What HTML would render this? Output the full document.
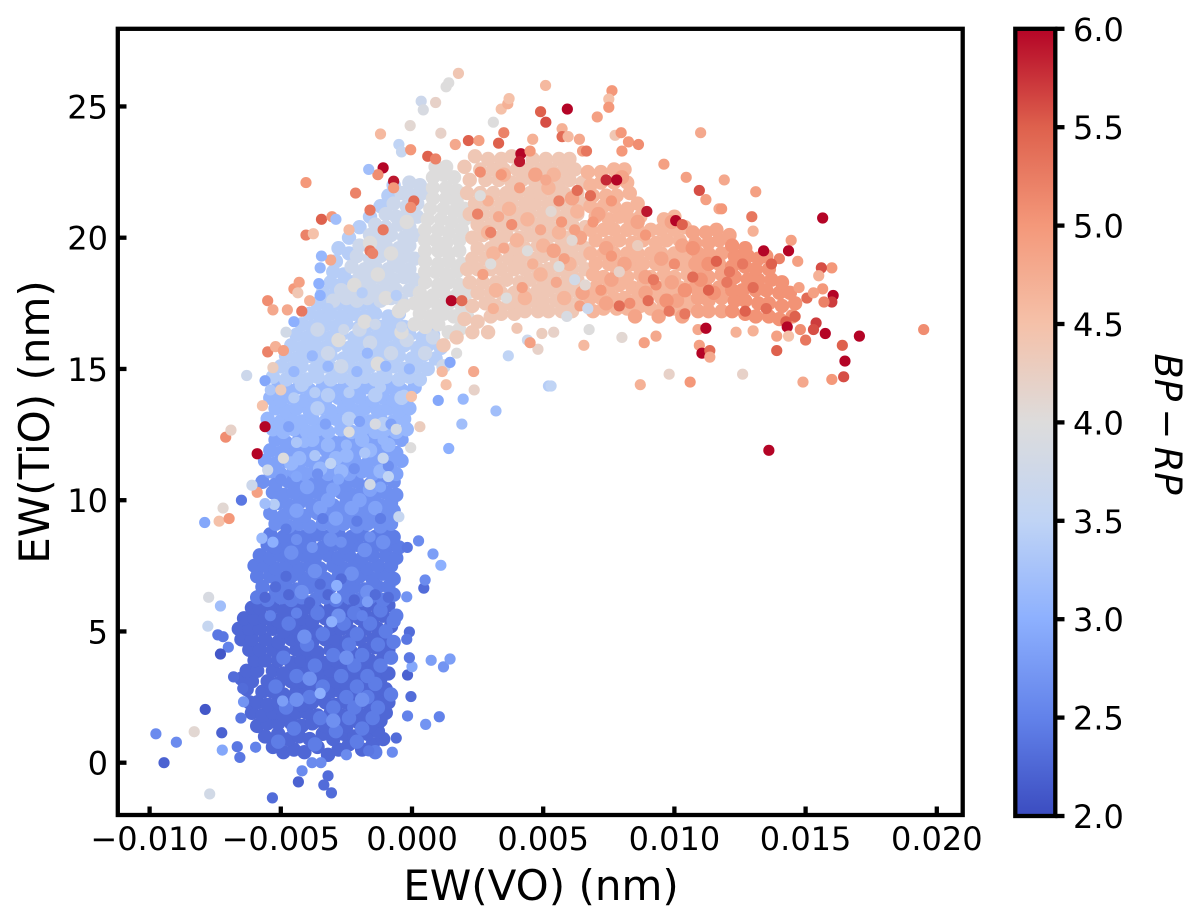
<!DOCTYPE html>
<html lang="en">
<head>
<meta charset="utf-8">
<title>EW(TiO) vs EW(VO)</title>
<style>
html,body{margin:0;padding:0;background:#fff;width:1200px;height:924px;overflow:hidden}
svg{display:block}
text{font-family:"DejaVu Sans","Liberation Sans",sans-serif;fill:#000}
</style>
</head>
<body>
<svg id="chart" xmlns="http://www.w3.org/2000/svg" width="1200" height="924" viewBox="0 0 1200 924">
  <defs>
    <linearGradient id="cbarGradient" x1="0" y1="1" x2="0" y2="0"></linearGradient>
  </defs>
  <g id="points"></g>
  <rect x="117.8" y="28.8" width="844.9" height="786.2" fill="none" stroke="#000" stroke-width="4.3"></rect>
  <g id="xTicks"></g>
  <g id="yTicks"></g>
  <text x="541" y="900" font-size="42" text-anchor="middle">EW(VO) (nm)</text>
  <text transform="translate(49 422) rotate(-90)" font-size="42" text-anchor="middle">EW(TiO) (nm)</text>
  <rect x="1015.3" y="28.8" width="40" height="787.2" fill="url(#cbarGradient)" stroke="#000" stroke-width="4.3"></rect>
  <g id="cTicks"></g>
  <text transform="translate(1155 424) rotate(90)" font-size="37" font-style="italic" text-anchor="middle" word-spacing="-4.5">BP − RP</text>
</svg>
<script>
const xTickValues=[-10,-5,0,5,10,15,20];
const xTickLabels=['−0.010','−0.005','0.000','0.005','0.010','0.015','0.020'];
const yTickValues=[0,5,10,15,20,25];
const yTickLabels=['0','5','10','15','20','25'];
const cTickValues=[2,2.5,3,3.5,4,4.5,5,5.5,6];
const cTickLabels=['2.0','2.5','3.0','3.5','4.0','4.5','5.0','5.5','6.0'];

// EW(VO) in 10^-3 nm, EW(TiO) in nm, stored as x,y pairs per BP-RP colour band
const band225=[-5.3,.6,-4.9,.4,-4.5,.5,-4.1,.4,-3.6,.6,-3.2,.3,-2.8,.5,-2.4,.7,-1.9,.5,-1.5,.7,-1.1,.9,
-5.6,1,-5.1,1.1,-4.7,.9,-4.3,1,-3.9,.9,-3.4,1.1,-3,.9,-2.6,1.1,-2.2,1,-1.7,1.1,-1.3,1.2,
-5.9,1.4,-5.5,1.5,-5.1,1.5,-4.6,1.5,-4.2,1.4,-3.8,1.5,-3.3,1.4,-2.9,1.5,-2.5,1.4,-2,1.5,-1.6,1.4,-1.2,1.6,
-6.1,1.9,-5.7,1.8,-5.3,1.9,-4.9,1.8,-4.4,1.9,-4,1.9,-3.6,1.8,-3.1,1.9,-2.7,1.8,-2.3,1.9,-1.8,1.8,-1.4,2,-1,1.9,
-6.2,2.3,-5.9,2.3,-5.5,2.2,-5.1,2.3,-4.6,2.3,-4.2,2.2,-3.8,2.3,-3.3,2.3,-2.9,2.2,-2.5,2.3,-2,2.3,-1.6,2.2,-1.2,2.4,-.9,2.3,
-6.3,2.8,-5.7,2.7,-5.3,2.7,-4.9,2.6,-4.4,2.7,-4,2.7,-3.6,2.6,-3.1,2.7,-2.7,2.7,-2.3,2.6,-1.8,2.7,-1.4,2.7,-1,2.8,
-6.5,3.2,-6.1,3.1,-5.5,3.1,-5.1,3,-4.6,3.1,-4.2,3.1,-3.8,3,-3.3,3.1,-2.9,3.1,-2.5,3,-2,3.1,-1.6,3.1,-1.2,3.2,
-6.3,3.5,-5.9,3.5,-5.3,3.5,-4.9,3.4,-4.4,3.5,-4,3.5,-3.6,3.4,-3.1,3.5,-2.7,3.5,-2.3,3.4,-1.8,3.5,-1.4,3.6,-.9,3.4,
-6,3.9,-5.6,3.9,-5.1,3.9,-4.6,3.8,-4.2,3.9,-3.8,3.9,-3.3,3.8,-2.9,3.9,-2.5,3.9,-2,3.8,-1.6,3.9,-1.1,4,
-6.2,4.3,-5.8,4.3,-5.3,4.3,-4.9,4.2,-4.4,4.3,-4,4.3,-3.6,4.2,-3.1,4.3,-2.7,4.3,-2.3,4.2,-1.8,4.3,-1.4,4.4,-.9,4.3,
-6.5,4.7,-6.1,4.7,-5.6,4.7,-5.1,4.6,-4.6,4.7,-4.2,4.7,-3.8,4.6,-3.3,4.7,-2.9,4.7,-2.5,4.6,-2,4.7,-1.5,4.7,-1.1,4.8,
-6.6,5.1,-6.2,5.1,-5.8,5.1,-5.3,5.1,-4.9,5,-4.4,5.1,-4,5.1,-3.6,5,-3.1,5.1,-2.7,5.1,-2.3,5,-1.8,5.1,-1.3,5.1,-.8,5.2,
-6.4,5.5,-6,5.5,-5.6,5.5,-5.1,5.4,-4.6,5.5,-4.2,5.5,-3.8,5.4,-3.3,5.5,-2.9,5.5,-2.5,5.4,-2,5.5,-1.5,5.5,-1.1,5.6,
-6.1,5.9,-5.8,5.9,-5.3,5.9,-4.9,5.8,-4.4,5.9,-4,5.9,-3.6,5.8,-3.1,5.9,-2.7,5.9,-2.3,5.8,-1.8,5.9,-1.3,5.9,-.9,6];
const band245=[-5.1,.8,-3.7,.7,-2.1,.8,-1.4,.4,-2.9,1.2,-4.5,1.3,-1.9,1.3,-3.5,1.7,-2.4,1.7,-1.5,1.7,-4.8,2.1,-3,2.1,-2.2,2.1,-1.3,2.1,-3.9,2.5,-2.5,2.5,-1.7,2.5,-.8,2.6,-5.2,2.9,-3.4,2.9,-2.1,2.9,-1.4,3,-4.4,3.3,-2.7,3.3,-1.7,3.3,-3.7,3.7,-2.2,3.7,-1.2,3.7,-4.9,4,-3,4.1,-1.9,4.1,-.8,4,-4,4.5,-2.4,4.5,-1.3,4.5,-.7,4.6,-3.4,4.9,-2.1,4.9,-1,5,-4.7,5.3,-2.6,5.3,-1.6,5.3,-.7,5.4,-3.6,5.7,-2.2,5.7,-1.2,5.8,-.6,5.6,
-5.9,6.3,-5.5,6.2,-5,6.3,-4.6,6.2,-4.2,6.3,-3.7,6.2,-3.3,6.3,-2.9,6.2,-2.4,6.3,-2,6.2,-1.6,6.3,-1.1,6.2,-.7,6.4,
-5.7,6.7,-5.2,6.6,-4.8,6.7,-4.4,6.6,-3.9,6.7,-3.5,6.6,-3.1,6.7,-2.6,6.6,-2.2,6.7,-1.8,6.6,-1.3,6.7,-.9,6.7,
-5.9,7.1,-5.4,7.1,-5,7,-4.6,7.1,-4.1,7,-3.7,7.1,-3.3,7,-2.8,7.1,-2.4,7,-2,7.1,-1.5,7,-1.1,7.2,-.7,7,
-6,7.5,-5.6,7.5,-5.2,7.4,-4.8,7.5,-4.3,7.4,-3.9,7.5,-3.5,7.4,-3,7.5,-2.6,7.4,-2.2,7.5,-1.7,7.4,-1.3,7.5,-.8,7.5,
-5.8,7.9,-5.4,7.8,-5,7.9,-4.5,7.8,-4.1,7.9,-3.7,7.8,-3.2,7.9,-2.8,7.8,-2.4,7.9,-1.9,7.8,-1.5,7.9,-1,7.9,-.6,7.8,
-5.5,8.3,-5.2,8.2,-4.7,8.3,-4.3,8.2,-3.9,8.3,-3.4,8.2,-3,8.3,-2.6,8.2,-2.1,8.3,-1.7,8.2,-1.2,8.3,-.8,8.3,-.5,8.2,
-5.4,8.7,-4.9,8.6,-4.5,8.7,-4.1,8.6,-3.6,8.7,-3.2,8.6,-2.8,8.7,-2.3,8.6,-1.9,8.7,-1.4,8.6,-1,8.7,-.7,8.6];
const band265=[-5.2,9.1,-4.7,9,-4.3,9.1,-3.9,9,-3.4,9.1,-3,9,-2.6,9.1,-2.1,9,-1.7,9.1,-1.2,9,-.8,9.1,
-5.4,9.5,-4.9,9.4,-4.5,9.5,-4.1,9.4,-3.6,9.5,-3.2,9.4,-2.8,9.5,-2.3,9.4,-1.9,9.5,-1.4,9.4,-1,9.5,-.7,9.6,
-5.1,9.9,-4.7,9.8,-4.3,9.9,-3.8,9.8,-3.4,9.9,-3,9.8,-2.5,9.9,-2.1,9.8,-1.7,9.9,-1.2,9.8,-.8,9.9,
-5.3,10.3,-4.9,10.2,-4.5,10.3,-4,10.2,-3.6,10.3,-3.2,10.2,-2.7,10.3,-2.3,10.2,-1.9,10.3,-1.4,10.2,-1,10.3,-.6,10.2,
-5.7,10.7,-5.2,10.6,-4.7,10.7,-4.2,10.6,-3.8,10.7,-3.4,10.6,-2.9,10.7,-2.5,10.6,-2.1,10.7,-1.6,10.6,-1.2,10.7,-.7,10.7,
-4.1,4.8,-2.8,5.6,-1.7,6.5,-3.7,7.3,-2.3,7.2,-4.6,8,-1.8,8.1,-3.1,8.5,-1.1,8.4,-4.2,6.5,-2.5,4,-3.9,3.2,-1.9,2.4,-3,1.6,-4.4,2.4];
const band285=[-5.4,11.1,-5,11,-4.5,11.1,-4.1,11,-3.7,11.1,-3.2,11,-2.8,11.1,-2.4,11,-1.9,11.1,-1.5,11,-1,11.1,-.6,11,
-5.6,11.5,-5.2,11.4,-4.8,11.5,-4.3,11.4,-3.9,11.5,-3.5,11.4,-3,11.5,-2.6,11.4,-2.2,11.5,-1.7,11.4,-1.3,11.5,-.8,11.4,-.4,11.5,
-5.4,11.9,-5,11.8,-4.5,11.9,-4.1,11.8,-3.7,11.9,-3.2,11.8,-2.8,11.9,-2.4,11.8,-1.9,11.9,-1.5,11.8,-1,11.9,-.6,11.8,
-5.2,12.3,-4.8,12.2,-4.3,12.3,-3.9,12.2,-3.5,12.3,-3,12.2,-2.6,12.3,-2.2,12.2,-1.7,12.3,-1.3,12.2,-.8,12.3,-.4,12.3,
-3.2,10,-2,10,-4.4,9.6,-1.4,9.7,-2.9,9.3,-4,10.5,-1.6,10.4,-3,10.4,-3.5,9.7,-2.3,9.7];
const band31=[-5.3,12.7,-4.9,12.6,-4.5,12.7,-4,12.6,-3.6,12.7,-3.2,12.6,-2.7,12.7,-2.3,12.6,-1.9,12.7,-1.4,12.6,-1,12.7,-.6,12.6,-.2,12.7,
-5.5,13.1,-5,13,-4.6,13.1,-4.2,13,-3.8,13.1,-3.3,13,-2.9,13.1,-2.5,13,-2,13.1,-1.6,13,-1.2,13.1,-.7,13,-.3,13.1,
-5.2,13.5,-4.8,13.4,-4.4,13.5,-3.9,13.4,-3.5,13.5,-3.1,13.4,-2.6,13.5,-2.2,13.4,-1.8,13.5,-1.3,13.4,-.9,13.5,-.5,13.4,-.1,13.5,
-5.4,13.9,-5,13.8,-4.6,13.9,-4.1,13.8,-3.7,13.9,-3.3,13.8,-2.8,13.9,-2.4,13.8,-2,13.9,-1.5,13.8,-1.1,13.9,-.7,13.8,-.2,13.9,
-5.1,14.3,-4.7,14.2,-4.3,14.3,-3.9,14.2,-3.4,14.3,-3,14.2,-2.6,14.3,-2.1,14.2,-1.7,14.3,-1.3,14.2,-.8,14.3,-.4,14.2,.1,14.3,
-3.5,11.2,-2.5,11.7,-1.2,11.1,-3.2,12.1,-4.3,11.6,-1.9,12.3,-2.7,11.1,-1.6,11.9,-.9,12.1,-3.8,12.3,-2.9,11.6,-4.6,11.4];
const band34=[-5.3,14.7,-4.8,14.6,-4.4,14.7,-4,14.6,-3.6,14.7,-3.1,14.6,-2.7,14.7,-2.3,14.6,-1.8,14.7,-1.4,14.6,-1,14.7,-.5,14.6,-.1,14.7,.3,14.6,
-5,15.1,-4.6,15,-4.2,15.1,-3.7,15,-3.3,15.1,-2.9,15,-2.4,15.1,-2,15,-1.6,15.1,-1.1,15,-.7,15.1,-.3,15,.2,15.1,.6,15,
-4.8,15.5,-4.4,15.4,-3.9,15.5,-3.5,15.4,-3.1,15.5,-2.6,15.4,-2.2,15.5,-1.8,15.4,-1.3,15.5,-.9,15.4,-.5,15.5,0,15.4,.4,15.5,.9,15.4,
-4.6,15.9,-4.2,15.8,-3.7,15.9,-3.3,15.8,-2.9,15.9,-2.4,15.8,-2,15.9,-1.6,15.8,-1.1,15.9,-.7,15.8,-.3,15.9,.2,15.8,.6,15.9,1.1,15.8,
-4.4,16.3,-4,16.2,-3.5,16.3,-3.1,16.2,-2.7,16.3,-2.2,16.2,-1.8,16.3,-1.4,16.2,-.9,16.3,-.5,16.2,-.1,16.3,.4,16.2,.8,16.3,
-4.2,16.7,-3.8,16.6,-3.3,16.7,-2.9,16.6,-2.5,16.7,-2,16.6,-1.6,16.7,-1.2,16.6,-.7,16.7,-.3,16.6,.1,16.7,
-3.9,17.1,-3.5,17,-3.1,17.1,-2.7,17,-2.2,17.1,-1.8,17,-1.4,17.1,-.9,17,-.5,17.1,
-3.6,17.5,-3.2,17.4,-2.8,17.5,-2.4,17.4,-1.9,17.5,-1.5,17.4,-3.4,17.9,-3,17.8,-2.6,17.9,-2.1,17.8,-3.1,18.3,-2.7,18.2,-2.3,18.3,-3,18.7,-2.6,18.6,-2.9,19.1,-2.4,19.4,-2.8,19.6,-2.4,20,-2,20.4,-1.6,20.8,-1.2,21.2,-.9,21.6,-.7,22,
-3.6,13.5,-2.4,13.1,-1.4,14,-4.2,14.4,-3.2,14,-2.2,14.5,-1.1,12.9,-.4,13.9];
const band37=[-3,17.6,-2.5,17.7,-2.1,17.6,-1.7,17.7,-1.2,17.6,-.8,17.7,-.4,17.6,
-2.7,18,-2.3,18,-1.9,18.1,-1.4,18,-1,18.1,-.6,18,-.1,18,
-2,18.5,-1.6,18.4,-1.2,18.5,-.7,18.4,-.3,18.5,.1,18.4,
-2.3,18.9,-1.8,18.8,-1.4,18.9,-.9,18.8,-.5,18.9,-.1,18.8,
-2.1,19.3,-1.6,19.2,-1.2,19.3,-.7,19.2,-.3,19.3,.1,19.2,
-2,19.7,-1.4,19.6,-1,19.7,-.5,19.6,-.1,19.7,
-1.6,20.1,-1.2,20,-.8,20.1,-.3,20,.1,20.1,
-1.4,20.5,-1,20.4,-.5,20.5,-.1,20.4,-1,20.9,-.6,20.8,-.2,20.9,.2,20.8,
-.7,21.3,-.2,21.2,.2,21.3,-.4,21.7,0,21.6,.4,21.7,-.1,22.1,.3,22,
-3.2,15.6,-1.6,16,-2.7,15.1,-.8,15.6,-2,16.5,-3.6,16.5,-.2,16.1,.5,15.6,1.2,15.1,.8,16.2];
const band40=[.1,16.7,.5,16.6,1,16.7,1.4,16.4,1.8,16.5,.3,17.1,.7,17,1.2,17.1,1.6,17,2.1,17,
.5,17.5,1,17.4,1.4,17.5,1.9,17.4,.1,17.5,-.3,17.4,
.3,17.9,.8,17.8,1.2,17.9,1.7,17.8,2.1,17.9,.5,18.3,1,18.2,1.4,18.3,1.8,18.2,
.5,18.7,.9,18.7,1.3,18.6,1.7,18.7,.5,19.1,1,19,1.4,19.1,1.9,19,
.5,19.5,1,19.5,1.4,19.4,1.8,19.5,.5,19.9,.9,19.9,1.3,19.8,1.8,19.9,
.5,20.3,1,20.3,1.4,20.2,1.9,20.3,.6,20.7,1.1,20.7,1.5,20.6,2,20.7,
.7,21.1,1.2,21.1,1.6,21,2,21.1,.8,21.5,1.3,21.5,1.7,21.4,.8,21.9,1.3,21.9,1.7,21.8,
.8,22.3,1.2,22.4,1.6,22.3,1.3,22.7,.9,22.7,
-1.8,16.8,-1,17.7,-2.2,18.2,-.8,19.4,-.2,20.6,-1.3,18.6,-.5,17.2,-1.6,19.8,-2.8,16.1,-1.3,15.2,-.4,16.4];
const band43=[2,16.9,2.5,16.8,3,17,3.4,17.1,3.9,17.1,4.3,17.2,4.8,17.2,5.2,17.2,5.7,17.2,6.1,17.2,
2.3,17.4,2.8,17.5,3.2,17.4,3.7,17.5,4.1,17.5,4.6,17.6,5,17.6,5.5,17.6,5.9,17.6,6.4,17.6,
2.5,17.9,3,17.9,3.4,17.9,3.9,17.9,4.3,17.9,4.8,18,5.2,18,5.7,18,6.1,18,6.6,18,
2.2,18.3,2.7,18.3,3.2,18.3,3.6,18.4,4.1,18.3,4.5,18.4,5,18.4,5.4,18.4,5.9,18.4,6.3,18.4,
2.1,18.8,2.5,18.8,3,18.8,3.4,18.8,3.9,18.8,4.3,18.8,4.8,18.8,5.2,18.8,5.7,18.8,6.1,18.8,6.6,18.8,
2.3,19.2,2.8,19.2,3.2,19.2,3.7,19.2,4.1,19.2,4.6,19.2,5,19.3,5.5,19.2,5.9,19.3,6.4,19.2,
2.5,19.6,3,19.6,3.4,19.7,3.9,19.6,4.3,19.6,4.8,19.7,5.2,19.6,5.7,19.7,6.1,19.6,6.6,19.6,
2.3,20,2.7,20.1,3.2,20,3.6,20.1,4.1,20,4.5,20.1,5,20,5.4,20.1,5.9,20,6.3,20.1,
2.5,20.5,3,20.5,3.4,20.5,3.9,20.5,4.3,20.5,4.8,20.5,5.2,20.5,5.7,20.5,6.1,20.5,6.6,20.4,
2.2,20.9,2.7,20.9,3.2,20.9,3.6,20.9,4.1,20.9,4.5,20.9,5,20.9,5.4,20.9,5.9,20.9,6.3,20.9,
2.4,21.3,2.9,21.3,3.4,21.3,3.8,21.3,4.3,21.3,4.7,21.3,5.2,21.3,5.6,21.3,6.1,21.3,6.5,21.3,
2.1,21.7,2.6,21.7,3.1,21.7,3.6,21.7,4,21.7,4.5,21.7,4.9,21.7,5.4,21.7,5.8,21.7,6.3,21.7,
2.2,22.2,2.8,22.2,3.3,22.2,3.8,22.1,4.2,22.2,4.7,22.1,5.1,22.2,5.6,22.1,6,22.2,6.5,22.1,
2,22.7,2.6,22.6,3.1,22.6,3.5,22.6,4,22.6,4.4,22.6,4.9,22.6,5.3,22.6,5.8,22.6,6.2,22.6,
2.4,23.1,2.9,23,3.4,23,3.8,23.1,4.6,23,5.1,23,5.6,23,6,23,1.7,16.2,2.3,16.4,2.9,16.4,1.2,15.9];
const band455=[6.9,17.2,7.3,17.3,7.8,17.3,8.2,17.3,8.7,17.4,9.1,17.3,9.6,17.4,10,17.3,10.5,17.4,
6.8,17.7,7.2,17.7,7.7,17.7,8.1,17.7,8.6,17.7,9,17.8,9.5,17.7,9.9,17.8,10.4,17.7,
7,18.1,7.5,18.1,7.9,18.2,8.4,18.1,8.8,18.2,9.3,18.1,9.7,18.2,10.2,18.1,10.6,18.2,
6.9,18.6,7.3,18.5,7.8,18.6,8.2,18.5,8.7,18.6,9.1,18.5,9.6,18.6,10,18.5,10.5,18.6,
7,19,7.5,19,7.9,19,8.4,19,8.8,19,9.3,19,9.7,19,10.2,19,10.6,19,
6.8,19.4,7.3,19.4,7.7,19.4,8.2,19.4,8.6,19.4,9.1,19.4,9.5,19.4,10,19.4,10.4,19.4,
7,19.9,7.5,19.8,7.9,19.9,8.4,19.8,8.8,19.9,9.3,19.8,9.7,19.9,10.2,19.9,
6.8,20.3,7.3,20.3,7.7,20.3,8.2,20.3,8.6,20.3,9.1,20.3,9.5,20.3,10,20.3,10.4,20.4,
7,20.8,7.5,20.7,7.9,20.8,8.3,20.7,8.7,20.8,10,20.8,9.6,20.7,
6.8,21.2,7.3,21.2,7.7,21.2,8.2,21.1,8.6,21.3,6.9,21.6,7.4,21.6,7.8,21.6,8.3,21.7,
6.8,22,7.2,22.1,7.7,22.1,8.2,22.1,6.7,22.5,7.2,22.5,7.7,22.6,8.1,22.6,
3.2,18,4,19.9,4.9,18.6,5.6,20.2,3.7,21.1,5.2,21.9,6,19,4.3,17.7,5.8,17.7,3.5,22.4,5,19.7,2.9,20.2,6.3,21,5.4,22.4,4.4,20.7,3.1,19.4];
const band48=[7.4,17.5,8.5,17,9.4,17,10.3,17,8.9,17.9,10.1,17.6,7.6,18.4,9.9,18.3,8.1,19,9.5,19.2,10.3,19.7,8.6,20.6,7.1,20.9,9.9,20.6,8,22.3,
10.9,17.2,11.3,17.2,11.8,17.2,10.9,17.7,11.3,17.6,11.8,17.7,10.8,18.1,11.2,18.1,11.7,18.1,10.9,18.6,11.3,18.5,11.8,18.6,10.8,19,11.2,19,11.7,19,10.9,19.4,11.3,19.4,11.8,19.4,10.8,19.8,11.3,19.8,11.7,19.9,10.7,20.2,11.2,20.2,11.6,20.3,12.1,20.1,
6.5,17.9,5.4,19.5,6.1,21.5,4.7,22.4,7.4,19.6,6.4,20,8.9,18.5];
const band505=[12.2,17.2,12.7,17.1,13.1,17,13.6,17,14,16.9,14.5,17,12.3,17.6,12.7,17.6,13.2,17.5,13.6,17.5,14.1,17.4,14.6,17.5,12.2,18,12.6,18,13.1,18,13.5,18,14,17.9,14.4,17.9,12.3,18.5,12.8,18.4,13.2,18.4,13.7,18.4,14.1,18.3,12.2,18.9,12.7,18.9,13.1,18.8,13.6,18.8,12.3,19.3,12.8,19.3,13.2,19.2,13.5,19.3,12.2,19.7,12.7,19.6,10.4,18,11,18.4,11.5,17.9,9.7,17.6,11.3,19,10.7,19.6];

const bandValues=[2.25,2.45,2.65,2.85,3.1,3.4,3.7,4.0,4.38,4.65,4.85,5.05];
const bandSeries=[band225,band245,band265,band285,band31,band34,band37,band40,band43,band455,band48,band505];

// mixed-colour points inside the dense regions: x, y, BP-RP
const mixedPoints=[-5.6,6.3,2.25,-4.7,6.4,2.25,-3.9,6.1,2.25,-3.2,6.4,2.25,-2.2,6.2,2.25,-1.4,6.4,2.3,-.9,6.3,2.3,-5.2,6.7,2.3,-3.5,6.8,2.3,-5.4,5.6,2.5,-4.4,5.7,2.5,-1.9,5.6,2.5,-4.8,7.1,2.3,-2.7,7,2.3,
-4.8,8.9,2.45,-3.4,9.3,2.45,-2.1,9.2,2.45,-1.2,9.3,2.45,-4.4,8.5,2.65,-2.7,8.4,2.65,-1.6,8.6,2.65,-3.8,8.2,2.7,
-5,10.8,2.65,-3.6,11,2.65,-2.2,11.2,2.65,-.9,11.3,2.65,-4.4,10.9,2.9,-2.8,10.8,2.9,-1.2,10.5,2.9,
-4.7,12.8,2.85,-3.3,12.9,2.85,-2,13,2.85,-.8,12.9,2.85,-4.1,12.2,3.1,-2.5,12.1,3.1,-1.1,12.3,3.1,
-4.5,14.9,3.1,-3.2,15.1,3.1,-2.1,14.9,3.1,-1,15.1,3.1,-.1,15,3.1,-3.8,15.5,3.1,-1.7,15.6,3.1,-3.7,14.1,3.4,-2.4,14.1,3.4,-1.2,14.3,3.4,-.3,14,3.4,-4.5,13.9,3.4,
-2.6,16.5,3.7,-1.4,16.7,3.7,-.4,16.6,3.7,-3.2,17.3,3.4,-1.9,17.9,3.4,-.6,17.8,3.4,
2.7,18.6,4.9,3.5,19.6,4.8,4.2,18.1,4.9,4.9,20.3,4.8,3.3,20.8,4.8,4.1,21.9,4.9,5.5,18.3,4.8,5.8,19.2,4.9,6.2,20.3,4.9,5.1,22.2,4.8,2.9,21.4,4.7,6.4,17.4,4.9,4.6,19,4.7,3.1,17.3,4.7,
3,19,4,4.4,19.5,4,5.6,18.9,4,2.6,21.6,4,6.1,19.9,4.1,3.6,17.7,4,5.3,21,4.1,7.9,18.7,4.2,8.6,19.7,4.3,6.6,18.2,4.1,
7.6,19.3,5,8.9,20.1,5,9.3,18.2,5.1,10,19,5.1,7.2,18,5,8.3,17.5,5.1,6.9,20.6,5,7.6,21.4,5,
7.9,17.4,5.4,9,17.6,5.4,10.7,18.5,5.4,12,18.3,5.3,13,18.1,5.4,13.5,17.3,5.4];

// individually read points: x, y, BP-RP
const sparsePoints=[-9.76,1.1,2.6,-8.98,.78,2.6,-9.45,0,2.2,-8.3,1.18,4.1,-7.88,2.03,2.1,-7.71,-1.19,3.8,-7.25,1.14,2.2,-7.23,.48,2.9,-6.66,.61,2.4,-6.56,.2,2.4,-5.96,.59,2.5,-6.52,1.7,2.4,-5.32,-1.34,2.3,-4.33,-.73,2.2,-4.19,-.31,2.6,-3.81,0,2.6,-3.47,0,2.6,-3.2,-.5,2.3,-3.36,-.85,2.3,-3.07,-1.15,2.3,-2.5,.3,2.6,-1.65,.45,2.4,-.75,.4,2.6,-.6,.94,2.3,-.17,1.78,2.5,.52,1.46,2.7,1.04,1.75,2.5,-.04,2.52,2.3,-.17,3.34,2.2,.73,3.9,2.8,1.2,3.65,2.7,1.45,3.95,2.8,0,3.66,2.9,-.1,4,2.4,-.1,4.98,2.3,-.2,4.7,2.4,.45,6.65,2.3,.5,6.96,2.6,-.2,6.32,2.7,1.1,7.52,3,.8,7.95,2.8,.25,8.45,2.6,-.18,8.2,2.4,-7.9,9.15,2.9,-7.35,9.2,4.5,-6.97,9.3,5,-7.2,9.7,4.1,-6.5,10,2.4,-7.75,6.3,3.9,-7.3,5.97,3.2,-7.78,5.2,3.6,-7.4,4.87,2.4,-7.2,4.8,2.4,-7,4.4,2.5,-7.3,4.14,2.1,-6.8,3.27,2.3,-6.45,2.83,2.3,-6.42,2.32,2.7,-7.1,12.4,5.1,-6.9,12.67,4.2,-5.9,11.77,6,-5.6,12.8,6,-5.9,10.3,4.9,1.4,11.97,3,1.9,12.9,3.2,.3,12.8,4.3,-.05,12,4,
-3.06,5.37,3,-3.5,2.64,3,-2.87,6.75,3,-2.9,6.26,3,-1.7,6.13,2.8,-5.72,8.55,3.1,-5.3,8.4,3,-4.93,2.35,2.8,-1.1,11.6,3.6,-.5,9.37,3.6,-5.5,11.15,3.7,-6.1,10.57,3.7,-5.25,9.84,3.4,-5.6,9.87,3.2,-3.1,11.4,3.5,-3.7,11.7,3.3,-1.8,11.8,3.3,-.9,10.9,3.5,-1.6,10.6,3.8,-4.9,11.6,4,-4.4,12.2,3.3,-2.4,12.6,4,-1.4,12.9,3.9,-.6,12.7,3.8,
1.77,26.26,4.4,1.3,25.75,4,1.4,25.9,4,.35,25.2,3.7,.43,24.87,3.9,.9,25.15,4.2,-.07,24.27,4.1,-1.2,23.95,4.6,1.1,23.98,4.2,3.1,24.4,4,3.4,24.9,4.5,3.65,25.1,4.7,3.7,25.3,4.5,5.09,25.8,4.6,4.9,24.8,5.5,5.1,24.4,5.6,-4.04,22.1,5,-2.15,21.7,5.2,-1.1,22.66,6,-1.3,22.4,5.1,-1.65,22.6,3.2,-.7,22.15,5.9,-.7,21.9,5,-.5,23.55,3.5,-.4,23.27,3.6,-.05,23.35,5,.6,23.1,5.5,.9,23,5.2,1.65,23.55,4.8,2.15,23.7,5.5,2.55,23.7,4.9,3.3,23.6,5.5,3.5,24,5.2,4.15,23.2,6,4.1,22.9,5.9,4.5,23.3,5,4.6,23.75,4.7,-3.45,20.7,5.5,-4.04,20.1,5.2,-3.76,20.15,4.5,-3.05,20.8,5,-2.9,20.7,3.2,-1.6,21.05,5.3,.07,21.4,5.4,-.05,21.15,5.1,-1.1,20.3,5.3,-1.6,19.5,5.3,-1.5,19.4,5.2,-2.4,20.3,4.6,-5.5,17.6,5.1,-5.3,17.25,4.8,-4.5,18.05,5,-4.3,18.3,4.9,-4.35,17.9,4.4,-4.75,17.25,4.8,-4.2,17.2,5.3,-3.9,17.6,4.7,-3.1,19.15,4.8,-3.5,18.85,3.1,-3.45,19.3,3.1,-3.55,18.25,3,-3.5,17.8,3,-4.5,16.8,3,-4.8,16.4,3.8,-5.5,15.65,5.2,-5.2,15.85,4.7,-4.9,15.7,4.9,-5.3,15.05,4.3,-6.3,14.75,3.7,-5.6,14.55,2.9,-5.4,14.2,3.3,-5,14.2,4.3,-5.7,13.6,4.5,
2.35,14.9,4.8,2.37,14.2,4.2,3.67,15.5,3.5,5.2,14.35,3.4,3.2,13.4,3.2,1.95,13.85,3.1,1,13.8,2.9,1.3,14.4,4.5,1.15,14.9,4.6,1.45,15.25,2.9,1.7,15.6,4,-.02,13.95,4.5,4.95,16.35,4.3,4.8,15.75,4.2,4.4,16.1,3.7,4.5,16,4.9,4,16.55,4.4,
7.62,25.6,5,7.5,25.28,4.5,7.5,24.97,5,7.06,24.6,4.9,5.92,24.9,6,5.72,24.15,4.7,5.72,23.85,5.4,5.95,23.85,4.6,6.38,23.75,4.8,7.74,23.9,4.4,7.97,24,5,8.25,23.65,5,8.63,23.55,5.1,8,23.3,5,6.5,23.3,4.9,6.65,23.3,5.3,9.6,22.8,4.9,11,24,4.8,10.45,22.3,4.9,11.9,22.2,4.8,10.95,21.8,5.6,11.2,21.45,4.9,11.7,21.1,4.8,11.8,21.1,5,13.1,21.75,4.9,12.95,20.8,5.3,13,20.25,4.7,8.95,21,5.9,10.05,20.65,6,10.3,20.5,5.5,15.65,20.75,6,14.45,19.9,4.9,14.35,19.5,6,14,19.2,5.2,14.7,19.1,4.9,16,18.85,5,15.6,18.85,5.6,15.5,18.55,4.7,16.05,17.8,6,16,17.55,5.7,15.7,17.55,5.2,15.05,17.7,5.4,14.75,18.1,4.9,15.65,18.05,5,15.3,17.9,4.9,14.6,17,5.5,14.25,16.8,5.5,14.3,16.6,6,15.4,16.75,5.7,15.3,16.5,5.6,15.75,16.35,6,14.8,16.5,5.1,15,16.1,5.3,14.35,16.25,4.5,13.9,16.25,4.9,13.9,15.7,5.5,16.4,15.9,5.5,17.05,16.25,6,16.5,15.3,6,16.45,14.7,5.6,16,14.6,5,14.9,14.5,4.8,19.5,16.5,5.1,10.6,14.5,5,9.8,14.8,4.2,12.6,14.8,4.2,8.7,14.4,4.7,5.3,14.35,3.5,8.85,16,4.9,9.3,16.25,4.8,8,16.2,4.1,6.75,16.5,4,6.55,15.9,4.6,5.4,16.4,4.2,10.9,16.5,4.8,11.2,16.55,6,10.95,15.9,4.9,11.05,15.6,6,11.35,15.7,5.4,11.35,15.45,4.8,12.35,16.4,4.7,13,16.45,4.7,13.6,11.9,6,
11.6,19.1,5.5,12.1,18.7,5.3,12.6,19,5.3,13.4,19.5,6,13.7,19,5.5,11.3,18,5.5,12.7,17.2,5.5,9.8,17.2,5.3,10.4,17.1,5.3,9.2,18.4,5.3,7.4,22.2,5.8,7.8,22.2,6,6.3,21.8,5.4,6.8,21.6,5.4,1.5,17.6,6,1.9,17.6,5.4,3,20.2,5.2,3.8,20.5,5.1,2.5,20.9,5.2,5.6,21.4,5.2,3.4,22.4,5,2.6,22.5,5.1,5.7,20.6,5,6.2,18.4,3.8,6.7,17.3,3.7,5.9,17,3.9];

const cmapStops=[[0,59,76,192],[.125,98,130,234],[.25,141,176,254],[.375,192,212,245],[.5,221,220,220],[.625,245,193,169],[.75,244,152,122],[.875,222,97,77],[1,180,4,38]];
const denseRadius=7.2;
const sparseRadius=5.6;
const NS='http://www.w3.org/2000/svg';
function xPos(v){return 412+26.24*v;}
function yPos(v){return 762.7-26.25*v;}
function cPos(v){return 816-196.8*(v-2);}
function coolwarm(c){
  const t=Math.max(0,Math.min(1,(c-2)/4));
  for(let i=1;i<cmapStops.length;i++){
    const a=cmapStops[i-1],b=cmapStops[i];
    if(t<=b[0]){
      const f=(t-a[0])/(b[0]-a[0]);
      return 'rgb('+[1,2,3].map(k=>Math.round(a[k]+(b[k]-a[k])*f)).join(',')+')';
    }
  }
  return 'rgb(180,4,38)';
}
function make(tag,attrs,parent){
  const el=document.createElementNS(NS,tag);
  for(const k in attrs){el.setAttribute(k,attrs[k]);}
  parent.appendChild(el);
  return el;
}
const pointLayer=document.getElementById('points');
function drawPoint(x,y,c,r){
  const dot=make('circle',{cx:xPos(x),cy:yPos(y),r:r,fill:coolwarm(c)},pointLayer);
  
  
}
bandSeries.forEach(function(arr,b){
  for(let i=0;i+1<arr.length;i+=2){drawPoint(arr[i],arr[i+1],bandValues[b],denseRadius);}
});
for(let i=0;i+2<mixedPoints.length;i+=3){drawPoint(mixedPoints[i],mixedPoints[i+1],mixedPoints[i+2],sparseRadius);}
for(let i=0;i+2<sparsePoints.length;i+=3){drawPoint(sparsePoints[i],sparsePoints[i+1],sparsePoints[i+2],sparseRadius);}

const xGroup=document.getElementById('xTicks');
xTickValues.forEach(function(v,i){
  const mark=make('line',{x1:xPos(v),x2:xPos(v),y1:815,y2:806.5,stroke:'#000','stroke-width':4.3},xGroup);
  
  
  const label=make('text',{x:xPos(v),y:850,'font-size':32,'text-anchor':'middle'},xGroup);
  label.textContent=xTickLabels[i];
  
  
});
const yGroup=document.getElementById('yTicks');
yTickValues.forEach(function(v,i){
  const mark=make('line',{x1:117.8,x2:126.5,y1:yPos(v),y2:yPos(v),stroke:'#000','stroke-width':4.3},yGroup);
  
  
  const label=make('text',{x:108,y:yPos(v)+11.8,'font-size':32,'text-anchor':'end'},yGroup);
  label.textContent=yTickLabels[i];
  
  
});
const cGroup=document.getElementById('cTicks');
cTickValues.forEach(function(v,i){
  const mark=make('line',{x1:1055.3,x2:1064.5,y1:cPos(v),y2:cPos(v),stroke:'#000','stroke-width':4.3},cGroup);
  
  
  const label=make('text',{x:1073,y:cPos(v)+12,'font-size':32},cGroup);
  label.textContent=cTickLabels[i];
  
  
});
const grad=document.getElementById('cbarGradient');
cmapStops.forEach(function(s){
  make('stop',{offset:s[0],'stop-color':'rgb('+s[1]+','+s[2]+','+s[3]+')'},grad);
});
</script>
</body>
</html>
